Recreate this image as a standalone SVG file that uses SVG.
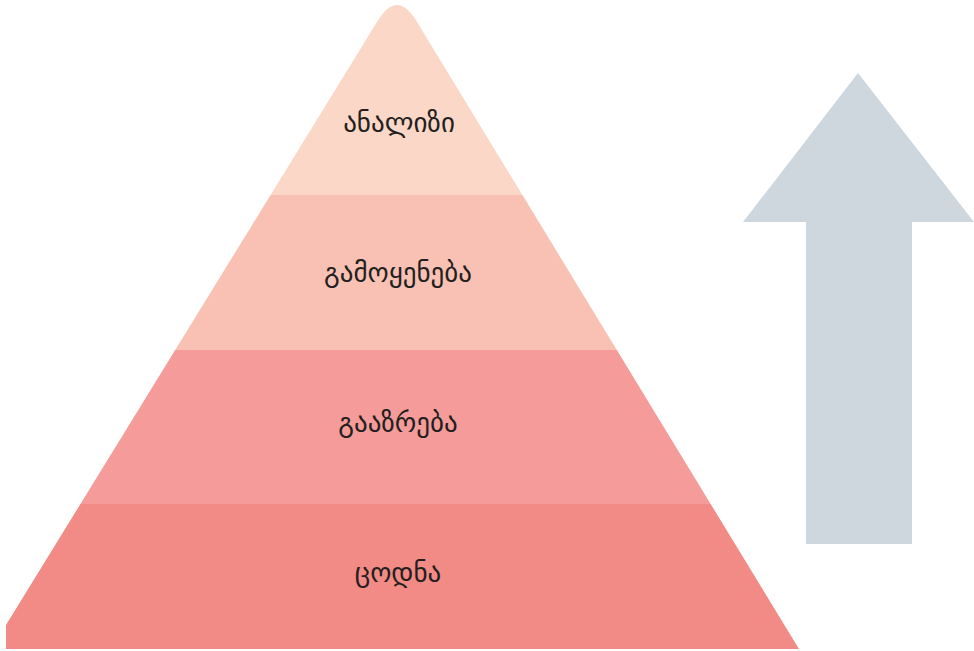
<svg xmlns="http://www.w3.org/2000/svg" width="974" height="651" viewBox="0 0 974 651">
  <style>
    .lbl { font-family: "DejaVu Sans", "Noto Sans", sans-serif; font-size: 27px; fill: #231f20; text-anchor: middle; dominant-baseline: central; }
  </style>
  <defs>
    <!-- pyramid outline: rounded apex, left foot clipped at the page edge -->
    <clipPath id="pyr">
      <path d="M377.6,21 Q397,-11 416.4,21 L799,649 L6,649 L6,625 Z"/>
    </clipPath>
  </defs>
  <rect width="974" height="651" fill="#ffffff"/>
  <g clip-path="url(#pyr)">
    <g id="level-4">
      <rect x="0" y="0" width="974" height="195" fill="#fbd7c7"/>
      <text class="lbl" x="399" y="122">ანალიზი</text>
    </g>
    <g id="level-3">
      <rect x="0" y="195" width="974" height="155" fill="#f9c1b3"/>
      <text class="lbl" x="398" y="272">გამოყენება</text>
    </g>
    <g id="level-2">
      <rect x="0" y="350" width="974" height="154" fill="#f59c9a"/>
      <text class="lbl" x="398" y="422">გააზრება</text>
    </g>
    <g id="level-1">
      <rect x="0" y="504" width="974" height="147" fill="#f28a85"/>
      <text class="lbl" x="398" y="572">ცოდნა</text>
    </g>
  </g>
  <g id="arrow">
    <path d="M858,73 L974,222 L912,222 L912,544 L806,544 L806,222 L743,222 Z" fill="#cdd7dd"/>
  </g>
</svg>
